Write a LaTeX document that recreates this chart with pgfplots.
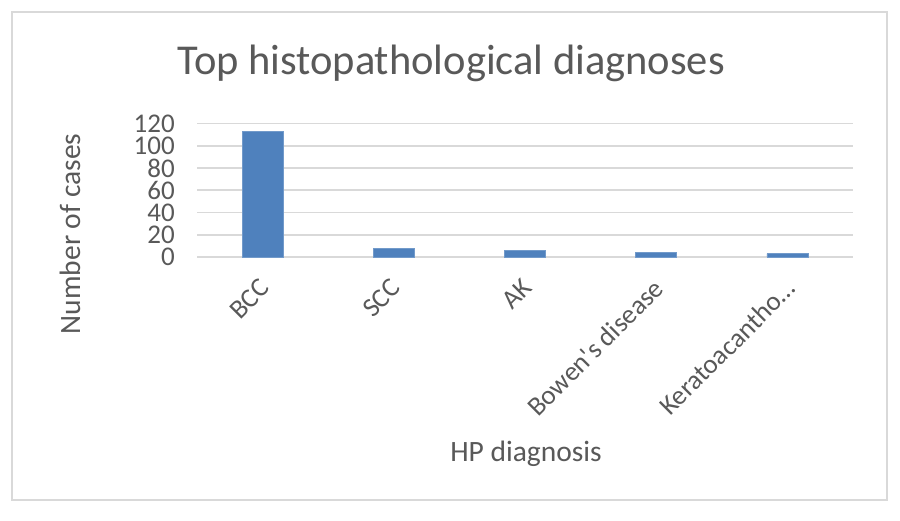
\documentclass[border=0pt]{standalone}
\usepackage{pgfplots}
\pgfplotsset{compat=1.18}
\usepackage{fontspec}
\setmainfont{Carlito}[Ligatures=TeXOff]
\definecolor{txt}{HTML}{595959}
\definecolor{grid}{HTML}{D9D9D9}
\definecolor{bar}{HTML}{4F81BD}
\begin{document}
\begin{tikzpicture}[x=1pt,y=1pt]
\useasboundingbox (0,0) rectangle (900,521);
\fill[white] (0,0) rectangle (900,521);
\draw[color=grid,line width=1.5pt] (12,21) rectangle (887,509);
\begin{axis}[
  at={(197pt,264pt)}, anchor=south west,
  scale only axis, width=656pt, height=133.5pt,
  xmin=-0.5, xmax=4.5, ymin=0, ymax=120,
  axis line style={draw=none},
  ytick={0,20,...,120},
  xtick={0,1,2,3,4},
  xticklabels={BCC,SCC,AK,Bowen's disease,Keratoacantho\dots},
  major tick length=0pt,
  ymajorgrids, major grid style={color=grid,line width=1.8pt},
  /pgf/number format/assume math mode=true,
  tick label style={font=\fontsize{27}{28}\selectfont, text=txt},
  yticklabel style={xshift=-22pt, inner sep=0pt},
  xticklabel style={xshift=-4pt, yshift=-20pt, rotate=45, anchor=north east, inner sep=0pt},
  ybar, bar width=41pt, bar shift=0pt,
  clip=false,
]
\addplot[fill=bar, draw=bar!80!white, line width=0.8pt] coordinates {(0,113) (1,8) (2,6) (3,4) (4,3)};
\end{axis}
\node[anchor=base, text=txt, font=\fontsize{42.5}{44}\selectfont] at (451,446) {Top histopathological diagnoses};
\node[anchor=base, text=txt, font=\fontsize{29.5}{30}\selectfont] at (526,59) {HP diagnosis};
\node[anchor=base, rotate=90, text=txt, font=\fontsize{29.5}{30}\selectfont] at (80,287) {Number of cases};
\end{tikzpicture}
\end{document}
